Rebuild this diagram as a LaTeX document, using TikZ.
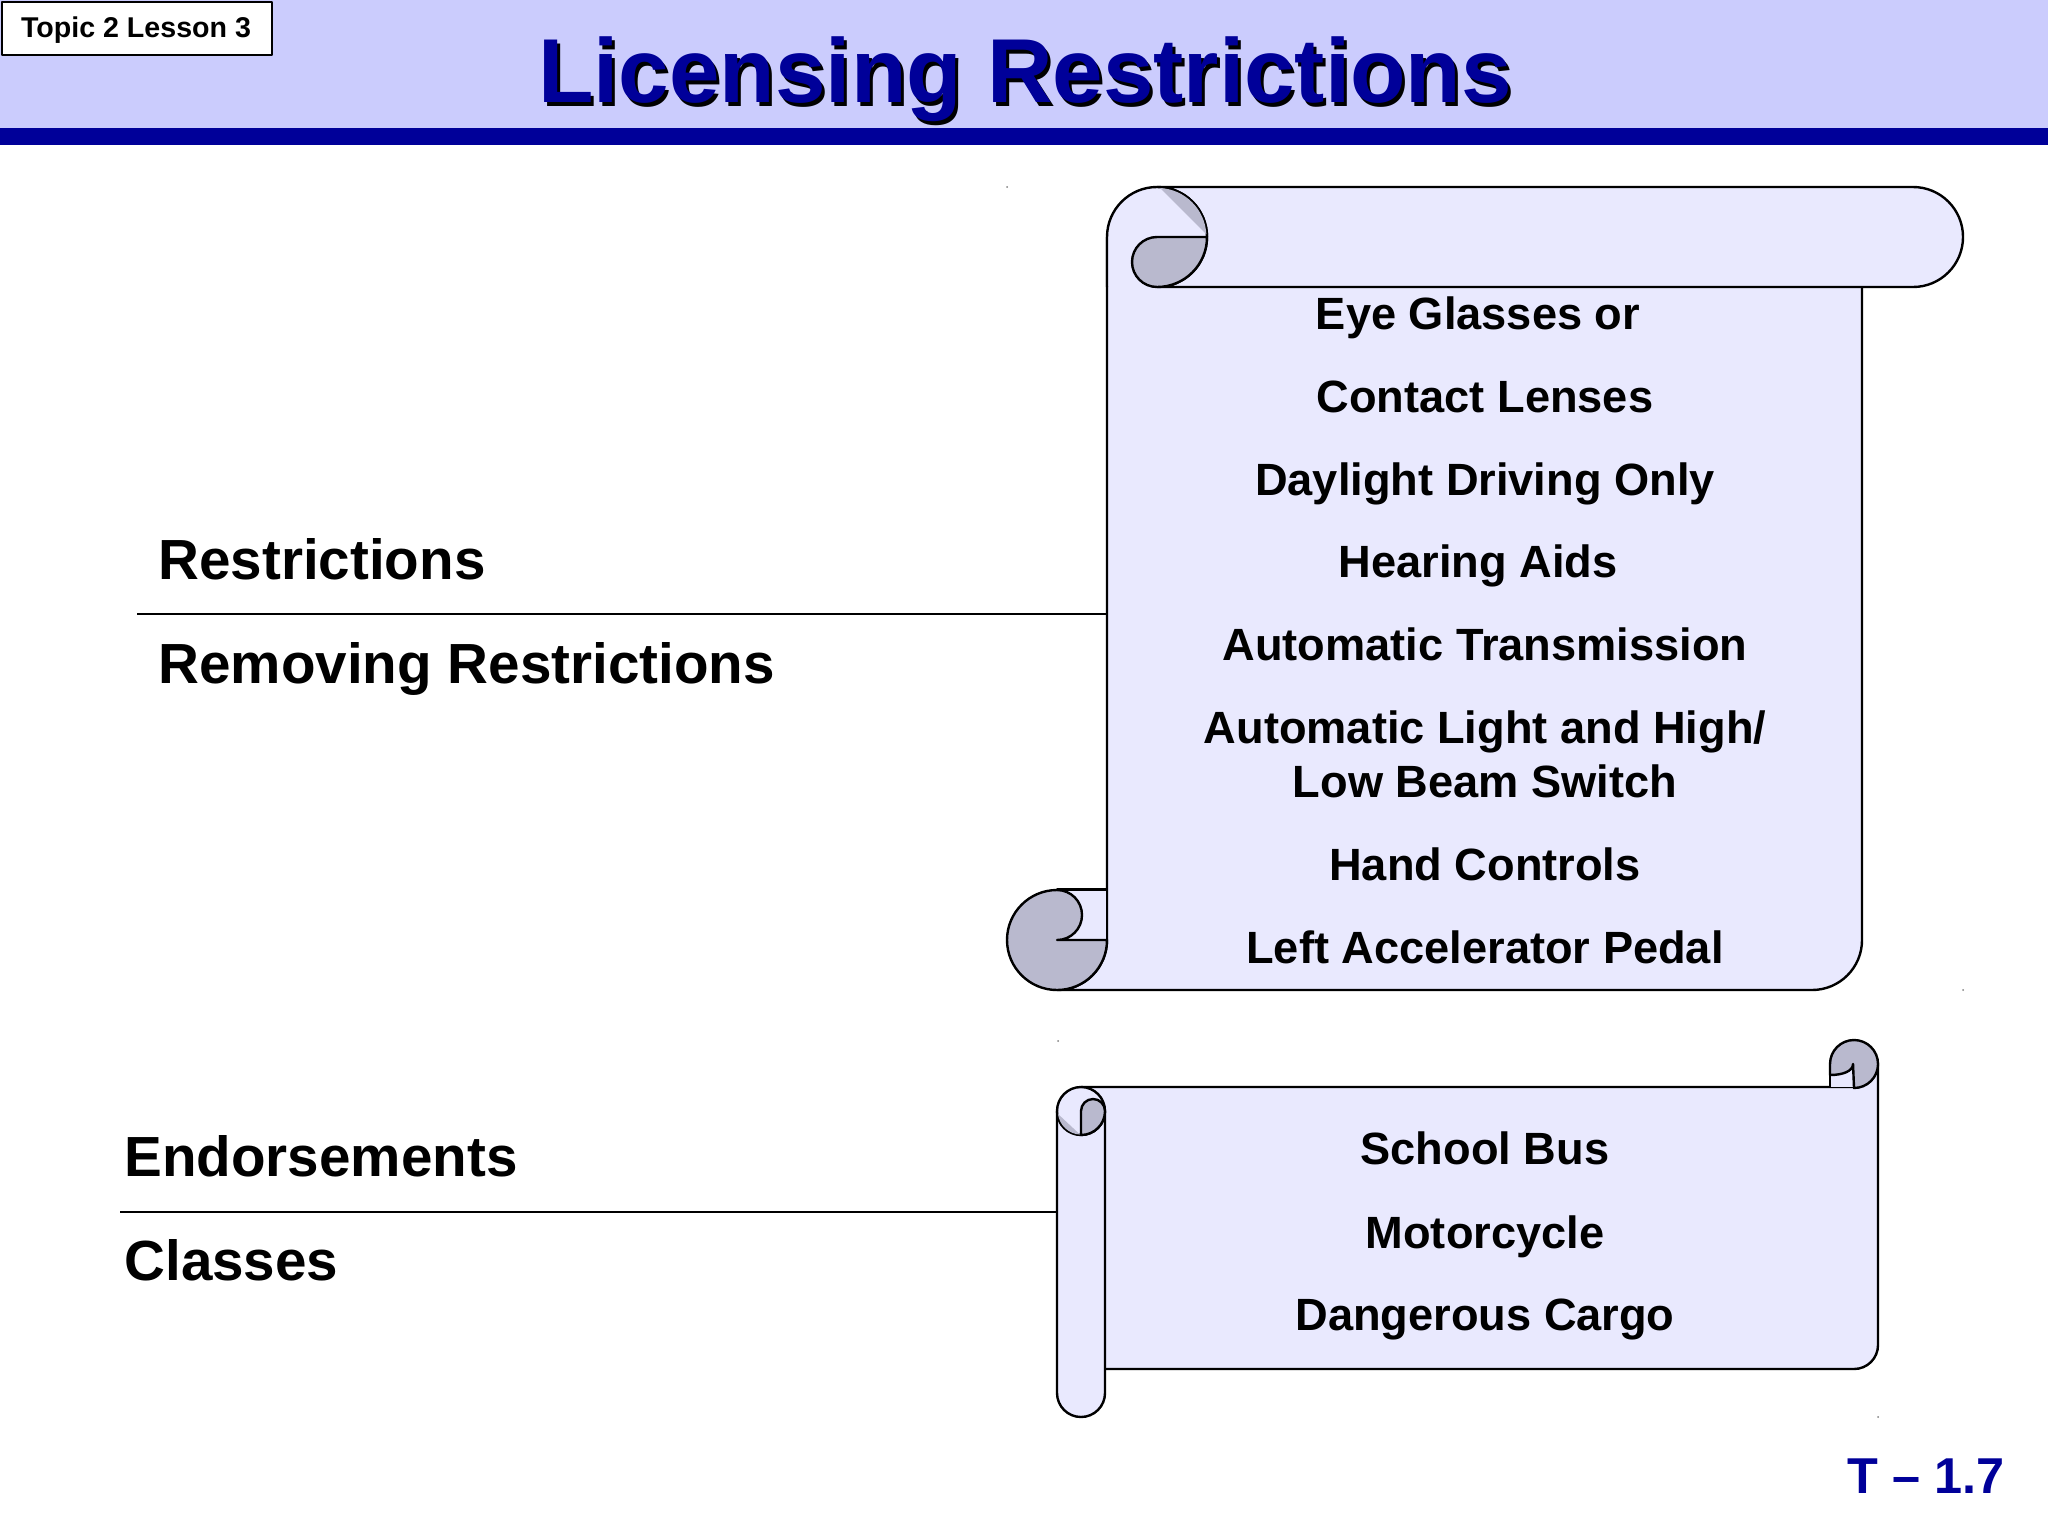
\documentclass[tikz,border=0pt]{standalone}
\usepackage{fontspec}
\setmainfont{Liberation Sans}
\definecolor{headerblue}{HTML}{CBCCFD}
\definecolor{navyblue}{HTML}{000099}
\definecolor{scrollfill}{HTML}{E9E9FE}
\definecolor{curlgrey}{HTML}{B9B9CE}
\tikzset{
  every picture/.style={x=0.5pt,y=-0.5pt,line join=round},
  scrollline/.style={draw=black,line width=1.2pt,fill=scrollfill},
  curlline/.style={draw=black,line width=1.2pt,fill=curlgrey},
  ruleline/.style={draw=black,line width=0.8pt},
  titletext/.style={anchor=base,inner sep=0pt,font=\fontsize{45.4}{54}\selectfont\bfseries},
  sidetext/.style={anchor=base west,inner sep=0pt,font=\fontsize{28.3}{34}\selectfont\bfseries},
  rowtext/.style={anchor=base,inner sep=0pt,font=\fontsize{22.6}{27}\selectfont\bfseries},
}
\begin{document}
\begin{tikzpicture}
\useasboundingbox (0,0) rectangle (2048,1536);
\fill[headerblue] (0,0) rectangle (2048,128);
\fill[navyblue] (0,128) rectangle (2048,145);
\node[draw=black,line width=1pt,fill=white,minimum width=135pt,minimum height=26.5pt,inner sep=0pt,anchor=north west] (topicbox) at (1,1) {};
\node[anchor=base,inner sep=0pt,font=\fontsize{14.3}{17}\selectfont\bfseries] (topiclabel) at (136,38) {Topic 2 Lesson 3};
\node[titletext,text=black] (titleshadow) at (1028,106) {Licensing Restrictions};
\node[titletext,text=navyblue] (title) at (1025,103) {Licensing Restrictions};
\node[anchor=base,inner sep=0pt,text=navyblue,font=\fontsize{25.2}{30}\selectfont\bfseries] (pagelabel) at (1926,1493) {T – 1.7};
\foreach \dotx/\doty in {1007/187,1963/990,1058/1041,1878/1417}
  \fill[gray] (\dotx,\doty) circle[radius=1];

\node[sidetext] (restrictions) at (158,579) {Restrictions};
\node[sidetext] (removing) at (158,683) {Removing Restrictions};
\node[sidetext] (endorsements) at (124,1176) {Endorsements};
\node[sidetext] (classes) at (124,1280) {Classes};
\coordinate (rulea) at (137,614);
\coordinate (ruleaend) at (1107,614);
\coordinate (ruleb) at (120,1212);
\coordinate (rulebend) at (1057,1212);
\draw[ruleline] (rulea) -- (ruleaend);
\draw[ruleline] (ruleb) -- (rulebend);

% big scroll
\draw[scrollline] (1107,237) -- (1107,940) arc[start angle=0,end angle=90,radius=50]
  -- (1812,990) arc[start angle=90,end angle=0,radius=50] -- (1862,287);
\draw[scrollline] (1057,889.5) rectangle (1107,940);
\draw[curlline] (1107,940) arc[start angle=0,end angle=270,radius=50]
  arc[start angle=-90,end angle=90,radius=25] -- cycle;
\draw[scrollline] (1157,187) -- (1913,187) arc[start angle=-90,end angle=90,radius=50]
  -- (1157,287) arc[start angle=90,end angle=0,radius=50] arc[start angle=0,end angle=-90,radius=50] -- cycle;
\draw[scrollline] (1107,287) -- (1107,237) arc[start angle=180,end angle=270,radius=50]
  arc[start angle=-90,end angle=0,radius=50];
\fill[curlgrey] (1160,188) arc[start angle=-87,end angle=-3,radius=49] -- cycle;
\draw[curlline] (1207,237) -- (1157,237) arc[start angle=270,end angle=90,radius=25]
  arc[start angle=90,end angle=0,radius=50] -- cycle;

% small scroll
\draw[scrollline] (1081,1087) -- (1854,1087) arc[start angle=90,end angle=0,radius=24]
  -- (1878,1345) arc[start angle=0,end angle=90,radius=24] -- (1105,1369);
\draw[scrollline] (1830,1087) -- (1830,1064) -- (1854,1064) -- (1854,1087);
\draw[curlline] (1854,1088) arc[start angle=90,end angle=-180,radius=24] -- (1830,1075)
  .. controls (1843,1075) and (1853,1071) .. (1853,1064) -- cycle;
\draw[scrollline] (1105,1111) -- (1105,1393) arc[start angle=0,end angle=180,radius=24] -- (1057,1111);
\draw[scrollline] (1057,1111) arc[start angle=180,end angle=-180,radius=24] -- cycle;
\fill[curlgrey] (1058,1114) arc[start angle=173,end angle=93,radius=23.5] -- cycle;
\draw[curlline] (1081,1135) -- (1081,1111) arc[start angle=180,end angle=360,radius=12]
  arc[start angle=0,end angle=90,radius=24] -- cycle;

\foreach \rowname/\rowx/\rowy/\rowlabel in {
  rowa/1478/329/Eye Glasses or,
  rowb/1485/412/Contact Lenses,
  rowc/1485/495/Daylight Driving Only,
  rowd/1478/577/Hearing Aids,
  rowe/1485/660/Automatic Transmission,
  rowf/1485/743/{Automatic Light and High/},
  rowg/1485/797/Low Beam Switch,
  rowh/1485/880/Hand Controls,
  rowi/1485/963/Left Accelerator Pedal,
  rowj/1485/1164/School Bus,
  rowk/1485/1248/Motorcycle,
  rowl/1485/1330/Dangerous Cargo}
  \node[rowtext] (\rowname) at (\rowx,\rowy) {\rowlabel};
\end{tikzpicture}
\end{document}
